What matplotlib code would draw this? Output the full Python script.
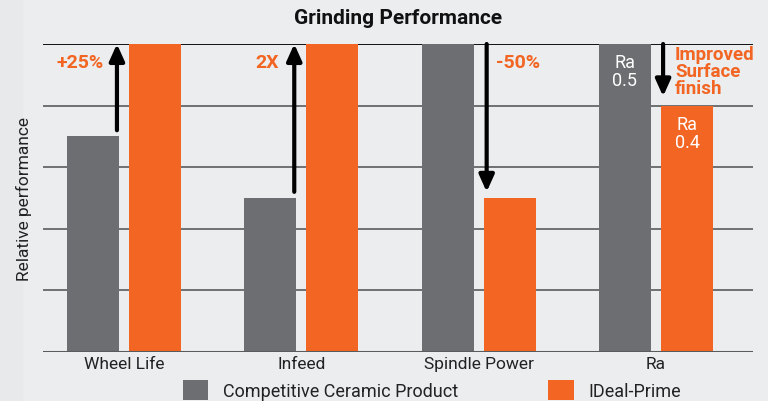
import matplotlib
matplotlib.use("Agg")
import matplotlib.pyplot as plt
import numpy as np

categories = ["Wheel Life", "Infeed", "Spindle Power", "Ra"]
competitor = [3.5, 2.5, 5.0, 5.0]
ideal_prime = [5.0, 5.0, 2.5, 4.0]
series_names = ["Competitive Ceramic Product", "IDeal-Prime"]
arrow_from = [3.6, 2.6, 5.0, 5.0]
arrow_to = [5.0, 5.0, 2.6, 4.15]
annotations = ["+25%", "2X", "-50%", "Improved\nSurface\nfinish"]
ra_labels = ["Ra\n0.5", "Ra\n0.4"]

GRAY = "#6d6e71"
ORANGE = "#f26522"
BG = "#ecedef"
FONT = ["Roboto", "DejaVu Sans"]
plt.rcParams["font.family"] = FONT

fig = plt.figure(figsize=(7.68, 4.02), dpi=100, facecolor=BG)
fig.patches.append(plt.Rectangle((0, 0), 22 / 768, 1, transform=fig.transFigure,
                                 color="#e7e9ea", zorder=-5))
W, H = 768, 402
left, right, top, bottom = 43, 753, 45, 353
ax = fig.add_axes([left / W, 1 - bottom / H, (right - left) / W, (bottom - top) / H])
ax.set_facecolor(BG)

x = np.arange(len(categories))
bw = 0.293
off = 0.175
ax.bar(x - off, competitor, bw, color=GRAY, zorder=3, label=series_names[0])
ax.bar(x + off, ideal_prime, bw, color=ORANGE, zorder=3, label=series_names[1])

ax.set_xlim(-0.457, 3.547)
ax.set_ylim(0, 5)
for y in [1, 2, 3, 4]:
    ax.axhline(y, color="#5a5b5d", lw=1.2, zorder=1)
ax.axhline(5, color="#111111", lw=1.4, zorder=1)
ax.axhline(0, color="#5a5b5d", lw=2.2, zorder=4)
for s in ax.spines.values():
    s.set_visible(False)
ax.set_yticks([])
ax.set_xticks(x)
ax.set_xticklabels(categories, fontsize=12.5, color="#222222")
ax.tick_params(axis="x", length=0, pad=3)

fig.text(24 / W, 1 - 199 / H, "Relative performance", rotation=90, ha="center",
         va="center", fontsize=12.5, color="#222222", zorder=10)

# arrows
arrow_x = [-0.04, -0.04, 0.045, 0.04]
for i in range(len(categories)):
    ax.annotate("", xy=(x[i] + arrow_x[i], arrow_to[i]), xytext=(x[i] + arrow_x[i], arrow_from[i]),
                arrowprops=dict(arrowstyle="-|>,head_width=0.45,head_length=1.0",
                                lw=3.0, color="black", shrinkA=0, shrinkB=0),
                zorder=5)

# annotations
ax.text(x[0] - 0.113, 4.71, annotations[0], ha="right", va="center", fontsize=14,
        fontweight="bold", color=ORANGE)
ax.text(x[1] - 0.124, 4.71, annotations[1], ha="right", va="center", fontsize=14,
        fontweight="bold", color=ORANGE)
ax.text(x[2] + 0.096, 4.71, annotations[2], ha="left", va="center", fontsize=14,
        fontweight="bold", color=ORANGE)
ax.text(x[3] + 0.107, 4.985, annotations[3], ha="left", va="top", fontsize=13.5,
        fontweight="bold", color=ORANGE, linespacing=0.93)

ax.text(x[3] - off, 4.56, ra_labels[0], ha="center", va="center", fontsize=13,
        color="white", linespacing=1.0, zorder=6)
ax.text(x[3] + off, 3.56, ra_labels[1], ha="center", va="center", fontsize=13,
        color="white", linespacing=1.0, zorder=6)

fig.text(398 / W, 1 - 18 / H, "Grinding Performance", ha="center", va="center",
         fontsize=15, fontweight="bold", color="#111111")

leg = fig.legend(loc="center", bbox_to_anchor=(432 / W, 1 - 391 / H), ncol=2,
                 frameon=False, fontsize=13, handlelength=1.4, handleheight=1.4,
                 columnspacing=5.0, handletextpad=0.8, borderaxespad=0)
for t in leg.get_texts():
    t.set_color("#222222")

fig.savefig("out.png", dpi=100, facecolor=BG)
